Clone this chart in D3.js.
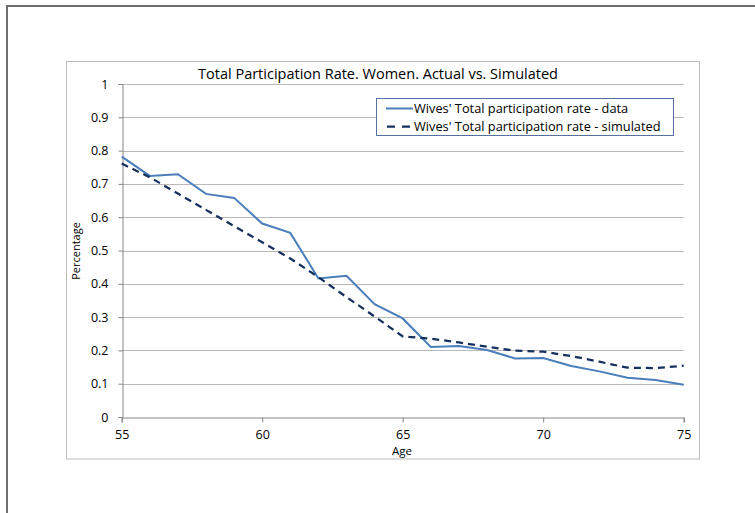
<!DOCTYPE html>
<html>
<head>
<meta charset="utf-8">
<script src="https://cdn.jsdelivr.net/npm/d3@7"></script>
<style>
  body { margin: 0; background: #fff; }
  text { font-family: "Open Sans", "Noto Sans", sans-serif; fill: #000; }
</style>
</head>
<body>
<svg id="chart" width="755" height="513"></svg>
<script>
const ages = d3.range(55, 76);
const actual = [0.782, 0.724, 0.729, 0.670, 0.658, 0.581, 0.553, 0.416, 0.424, 0.339, 0.296,
  0.210, 0.213, 0.201, 0.176, 0.177, 0.153, 0.137, 0.118, 0.111, 0.097];
const simulated = [0.761, 0.720, 0.671, 0.622, 0.573, 0.525, 0.476, 0.420, 0.360, 0.302, 0.242,
  0.235, 0.224, 0.211, 0.199, 0.196, 0.183, 0.166, 0.148, 0.147, 0.154];
const yTicks = [0, 0.1, 0.2, 0.3, 0.4, 0.5, 0.6, 0.7, 0.8, 0.9, 1];
const xTicks = [55, 60, 65, 70, 75];
const seriesNames = ["Wives' Total participation rate - data", "Wives' Total participation rate - simulated"];

const svg = d3.select("#chart");

// outer frame (only top and left edges show)
svg.append("path")
  .attr("d", "M7,513 V6 H755")
  .attr("fill", "none")
  .attr("stroke", "#6d6d6d")
  .attr("stroke-width", 2);

// chart area border
svg.append("rect")
  .attr("x", 66.5).attr("y", 61.5)
  .attr("width", 633).attr("height", 397.5)
  .attr("fill", "none")
  .attr("stroke", "#bcbcbc");

const margin = { left: 121.7, right: 683.7, top: 84, bottom: 417 };

const x = d3.scaleLinear().domain([55, 75]).range([margin.left, margin.right]);
const y = d3.scaleLinear().domain([0, 1]).range([margin.bottom, margin.top]);

// gridlines
svg.append("g")
  .selectAll("line")
  .data(yTicks.filter(d => d > 0))
  .enter()
  .append("line")
  .attr("x1", margin.left).attr("x2", margin.right)
  .attr("y1", d => Math.round(y(d)) + 0.5).attr("y2", d => Math.round(y(d)) + 0.5)
  .attr("stroke", "#b9b9b9")
  .attr("stroke-width", 1);

const yAxis = svg.append("g")
  .attr("transform", `translate(${Math.round(margin.left) + 0.5},0)`)
  .call(d3.axisLeft(y).tickValues(yTicks).tickSize(4).tickPadding(10)
    .tickFormat(d => d3.format("")(+d.toFixed(1))));

const xAxis = svg.append("g")
  .attr("transform", `translate(0,${margin.bottom + 0.5})`)
  .call(d3.axisBottom(x).tickValues(xTicks).tickSize(5).tickPadding(8));

[yAxis, xAxis].forEach(a => {
  a.select(".domain").attr("stroke", "#868686");
  a.selectAll(".tick line").attr("stroke", "#868686");
  a.selectAll(".tick text").style("font-size", "12.5px").attr("fill", "#000");
});

const line = d3.line()
  .x((d, i) => x(ages[i]))
  .y(d => y(d));

svg.append("path")
  .datum(actual)
  .attr("fill", "none")
  .attr("stroke", "#4a7ebb")
  .attr("stroke-width", 2)
  .attr("d", line);

svg.append("path")
  .datum(simulated)
  .attr("fill", "none")
  .attr("stroke", "#15305e")
  .attr("stroke-width", 2.25)
  .attr("stroke-dasharray", "7,5")
  .attr("d", line);

// title
svg.append("text")
  .attr("x", 378).attr("y", 79)
  .attr("text-anchor", "middle")
  .style("font-size", "14.5px")
  .text("Total Participation Rate. Women. Actual vs. Simulated");

// axis labels
svg.append("text")
  .attr("x", 402).attr("y", 455)
  .attr("text-anchor", "middle")
  .style("font-size", "11.5px")
  .text("Age");

svg.append("text")
  .attr("transform", "translate(80,251) rotate(-90)")
  .attr("text-anchor", "middle")
  .style("font-size", "11px")
  .text("Percentage");

// legend
const legend = svg.append("g");
legend.append("rect")
  .attr("x", 376.5).attr("y", 98.5)
  .attr("width", 297).attr("height", 37)
  .attr("fill", "#fff")
  .attr("stroke", "#5670a2");

const legendRows = [
  { name: seriesNames[0], color: "#4a7ebb", dash: null, w: 2, x1: 386 },
  { name: seriesNames[1], color: "#15305e", dash: "8,7", w: 2.25, x1: 387 }
];
legendRows.forEach((r, i) => {
  const ly = 108.5 + i * 18;
  legend.append("line")
    .attr("x1", r.x1).attr("x2", 410 + (i ? 0 : 3))
    .attr("y1", ly).attr("y2", ly)
    .attr("stroke", r.color)
    .attr("stroke-width", r.w)
    .attr("stroke-dasharray", r.dash);
  legend.append("text")
    .attr("x", 414).attr("y", ly + 4.5)
    .style("font-size", "12.8px")
    .text(r.name);
});
</script>
</body>
</html>
